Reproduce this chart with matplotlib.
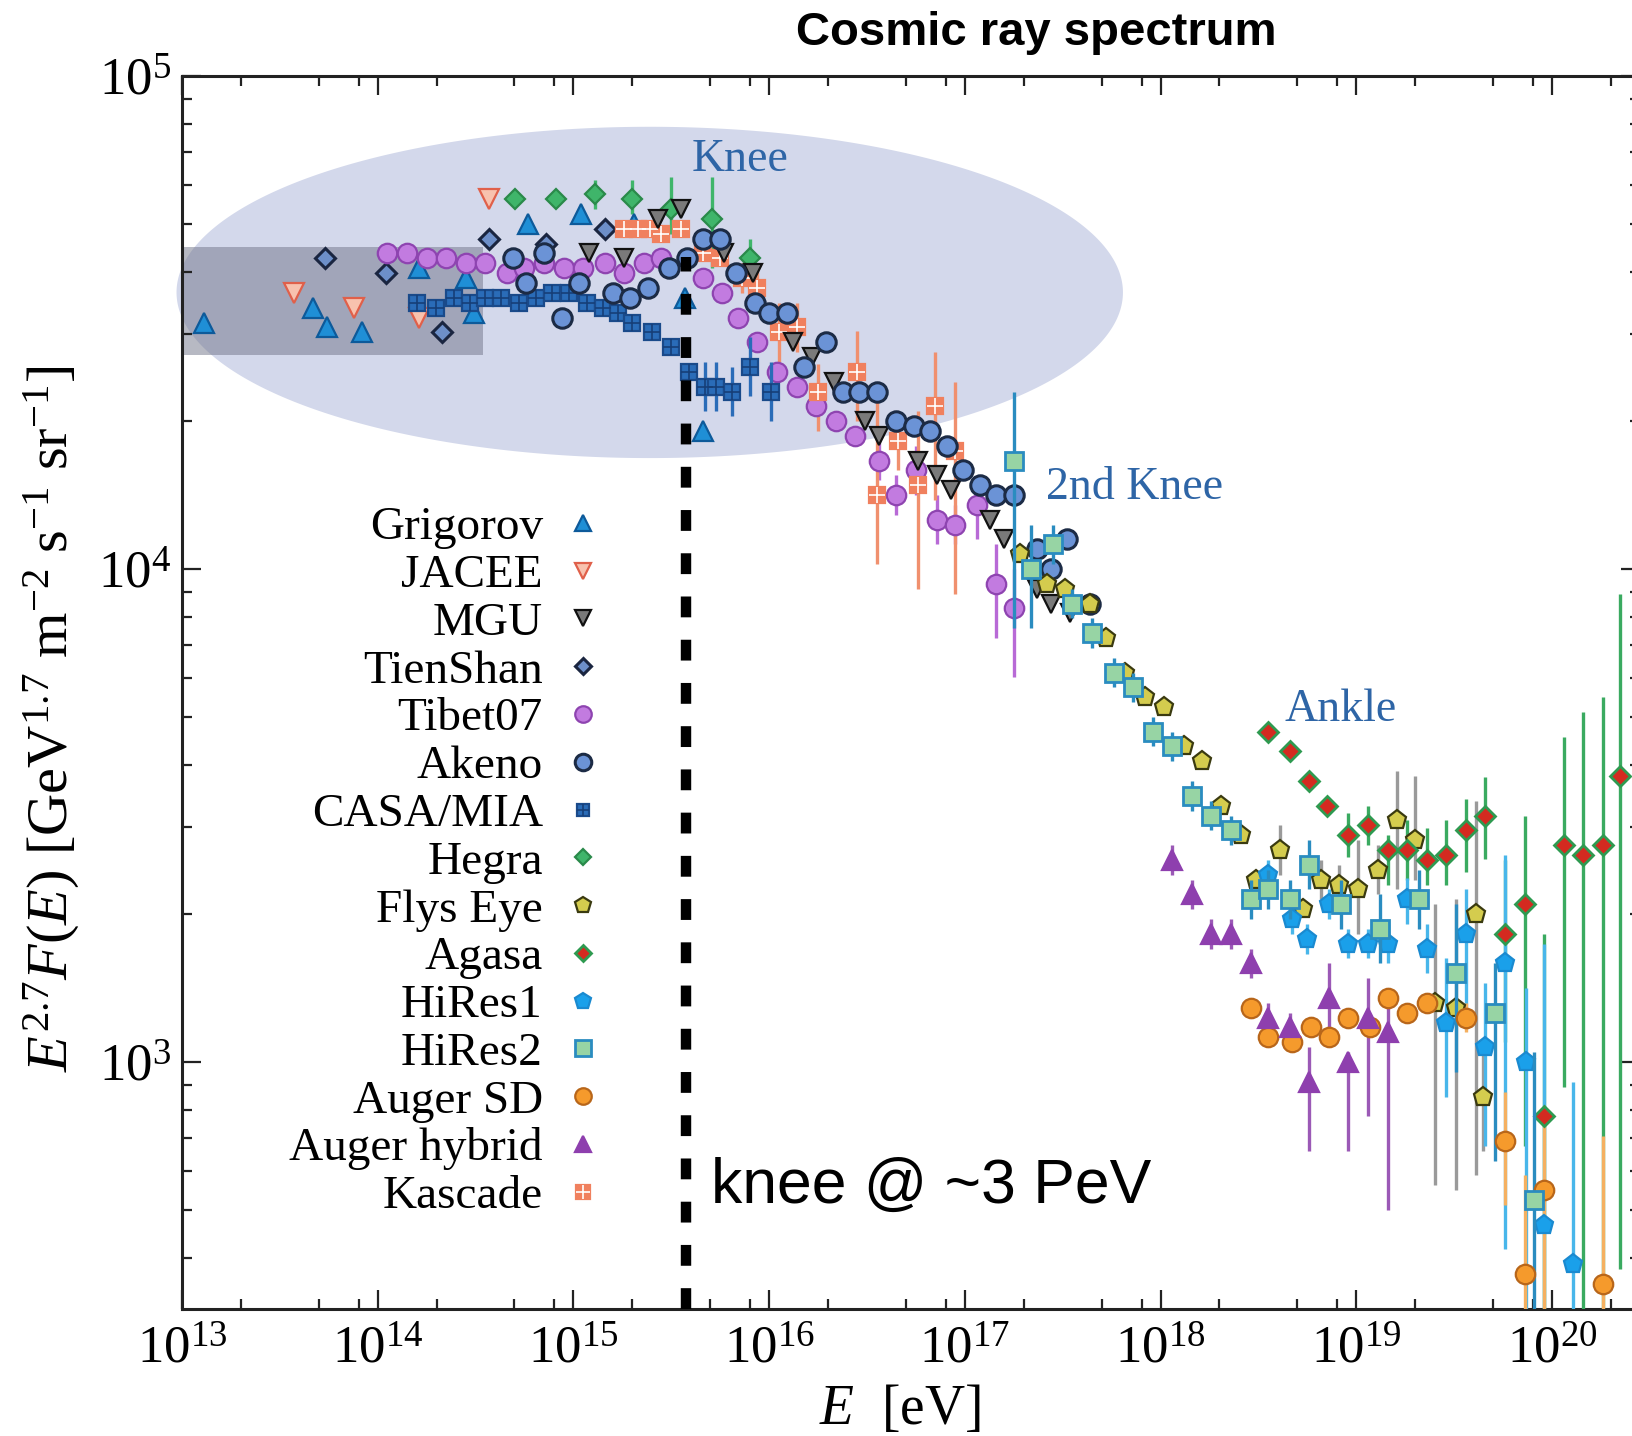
import numpy as np
import matplotlib
matplotlib.use("Agg")
import matplotlib.pyplot as plt
from matplotlib.ticker import LogLocator, NullFormatter

# ---- data: log10(E/eV) and log10(E^2.7 F(E)) ----
grig_le = [13.11, 13.67, 13.74, 13.92, 14.21, 14.45, 14.49, 14.77, 15.04, 15.31, 15.57, 15.66]
grig_lf = [4.50, 4.53, 4.49, 4.48, 4.61, 4.59, 4.52, 4.70, 4.72, 4.70, 4.55, 4.28]

jacee_le = [13.57, 13.88, 14.21, 14.57]
jacee_lf = [4.56, 4.53, 4.51, 4.75]

mgu_le = [15.08, 15.26, 15.43, 15.55, 15.77, 15.92, 16.12, 16.22, 16.33, 16.49, 16.56, 16.76,
          16.86, 16.93, 17.13, 17.20, 17.37, 17.44, 17.54]
mgu_lf = [4.64, 4.63, 4.71, 4.73, 4.64, 4.60, 4.46, 4.43, 4.38, 4.30, 4.27, 4.22,
          4.19, 4.16, 4.10, 4.06, 3.96, 3.93, 3.91]

tien_le = [13.73, 14.04, 14.33, 14.57, 14.86, 15.16]
tien_lf = [4.63, 4.60, 4.48, 4.67, 4.66, 4.69]

tibet_le = [14.05, 14.15, 14.25, 14.35, 14.45, 14.55, 14.66, 14.75, 14.85, 14.95, 15.05, 15.16,
            15.26, 15.36, 15.45, 15.66, 15.76, 15.84, 15.94, 16.04, 16.14, 16.24, 16.34, 16.44,
            16.56, 16.65, 16.75, 16.86, 16.95, 17.06, 17.16, 17.25]
tibet_lf = [4.64, 4.64, 4.63, 4.63, 4.62, 4.62, 4.60, 4.61, 4.62, 4.61, 4.61, 4.62,
            4.60, 4.62, 4.63, 4.59, 4.56, 4.51, 4.46, 4.40, 4.37, 4.33, 4.30, 4.27,
            4.22, 4.15, 4.20, 4.10, 4.09, 4.13, 3.97, 3.92]
tibet_hi = [0] * 24 + [0.04, 0.04, 0.05, 0.05, 0.04, 0.03, 0.08, 0.08]
tibet_lo = [0] * 24 + [0.04, 0.04, 0.05, 0.05, 0.04, 0.07, 0.11, 0.14]

akeno_le = [14.69, 14.76, 14.85, 14.94, 15.03, 15.20, 15.29, 15.38, 15.49, 15.58, 15.66, 15.75,
            15.83, 15.93, 16.00, 16.09, 16.18, 16.29, 16.38, 16.46, 16.55, 16.65, 16.74, 16.82,
            16.91, 16.99, 17.08, 17.16, 17.25, 17.37, 17.44, 17.52, 17.64]
akeno_lf = [4.63, 4.58, 4.64, 4.51, 4.58, 4.56, 4.55, 4.57, 4.61, 4.63, 4.67, 4.67,
            4.60, 4.54, 4.52, 4.52, 4.41, 4.46, 4.36, 4.36, 4.36, 4.30, 4.29, 4.28,
            4.25, 4.20, 4.17, 4.15, 4.15, 4.04, 4.00, 4.06, 3.93]

casa_le = [14.20, 14.30, 14.39, 14.47, 14.55, 14.63, 14.72, 14.81, 14.89, 14.98, 15.07, 15.15,
           15.23, 15.30, 15.40, 15.50, 15.59, 15.67, 15.73, 15.81, 15.90, 16.01]
casa_lf = [4.54, 4.53, 4.55, 4.54, 4.55, 4.55, 4.54, 4.55, 4.56, 4.56, 4.54, 4.53,
           4.52, 4.50, 4.48, 4.45, 4.40, 4.37, 4.37, 4.36, 4.41, 4.36]
casa_err = [0] * 17 + [0.05, 0.05, 0.05, 0.06, 0.06]

hegra_le = [14.70, 14.91, 15.11, 15.30, 15.50, 15.71, 15.90]
hegra_lf = [4.75, 4.75, 4.76, 4.75, 4.73, 4.71, 4.63]
hegra_hi = [0, 0, 0.03, 0.04, 0.065, 0.085, 0.04]
hegra_lo = [0, 0, 0.03, 0.03, 0.05, 0.10, 0.04]

flys_le = [17.28, 17.42, 17.51, 17.64, 17.72, 17.82, 17.92, 18.02, 18.12, 18.21, 18.31, 18.41,
           18.49, 18.61, 18.73, 18.82, 18.91, 19.01, 19.11, 19.21, 19.30, 19.40, 19.51, 19.61, 19.65]
flys_lf = [4.03, 3.97, 3.96, 3.93, 3.86, 3.79, 3.74, 3.72, 3.64, 3.61, 3.52, 3.46,
           3.37, 3.43, 3.31, 3.37, 3.36, 3.35, 3.39, 3.49, 3.45, 3.12, 3.11, 3.30, 2.93]
flys_hi = [0] * 13 + [0.05, 0, 0.04, 0.04, 0.10, 0.05, 0.10, 0.13, 0.20, 0.22, 0.23, 0.10]
flys_lo = [0] * 13 + [0.05, 0, 0.04, 0.04, 0.09, 0.05, 0.14, 0.08, 0.37, 0.37, 0.53, 0.11]

agasa_le = [18.55, 18.66, 18.76, 18.85, 18.96, 19.06, 19.16, 19.26, 19.36, 19.46, 19.56, 19.66,
            19.76, 19.86, 19.96, 20.06, 20.16, 20.26, 20.35]
agasa_lf = [3.67, 3.63, 3.57, 3.52, 3.46, 3.48, 3.43, 3.43, 3.41, 3.42, 3.47, 3.50,
            3.26, 3.32, 2.89, 3.44, 3.42, 3.44, 3.58]
agasa_hi = [0, 0, 0, 0, 0.045, 0.04, 0.03, 0.06, 0.065, 0.07, 0.064, 0.078,
            0.15, 0.18, 0.37, 0.22, 0.29, 0.30, 0.37]
agasa_lo = [0, 0, 0, 0, 0.045, 0.04, 0.07, 0.06, 0.05, 0.06, 0.085, 0.088,
            0.22, 0.49, 0.60, 0.49, 1.0, 1.0, 1.0]

hires1_le = [18.55, 18.67, 18.75, 18.86, 18.96, 19.06, 19.16, 19.26, 19.36, 19.46, 19.56, 19.66,
             19.76, 19.87, 19.96, 20.11]
hires1_lf = [3.38, 3.29, 3.25, 3.32, 3.24, 3.24, 3.24, 3.33, 3.23, 3.08, 3.26, 3.03,
             3.20, 3.00, 2.67, 2.59]
hires1_hi = [0.03, 0.03, 0.03, 0.03, 0.03, 0.03, 0.04, 0.044, 0.05, 0.13, 0.09, 0.13,
             0.22, 0.15, 0.57, 0.37]
hires1_lo = [0.03, 0.03, 0.03, 0.03, 0.03, 0.03, 0.04, 0.051, 0.05, 0.15, 0.17, 0.20,
             0.58, 0.60, 0.30, 0.20]

hires2_le = [17.25, 17.34, 17.45, 17.55, 17.65, 17.76, 17.86, 17.96, 18.06, 18.16, 18.26, 18.36,
             18.46, 18.55, 18.66, 18.76, 18.92, 19.12, 19.32, 19.51, 19.71, 19.91]
hires2_lf = [4.22, 4.00, 4.05, 3.93, 3.87, 3.79, 3.76, 3.67, 3.64, 3.54, 3.50, 3.47,
             3.33, 3.35, 3.33, 3.40, 3.32, 3.27, 3.33, 3.18, 3.10, 2.72]
hires2_hi = [0.14, 0.09, 0.04, 0.03, 0.03, 0.03, 0.03, 0.03, 0.03, 0.03, 0.03, 0.03,
             0.04, 0.04, 0.04, 0.05, 0.05, 0.07, 0.06, 0.14, 0.10, 0.30]
hires2_lo = [0.34, 0.12, 0.04, 0.03, 0.03, 0.03, 0.03, 0.03, 0.03, 0.03, 0.03, 0.03,
             0.04, 0.04, 0.04, 0.05, 0.05, 0.07, 0.06, 0.20, 0.30, 0.25]

augsd_le = [18.46, 18.55, 18.67, 18.77, 18.86, 18.96, 19.07, 19.16, 19.26, 19.36, 19.56, 19.76,
            19.86, 19.96, 20.26]
augsd_lf = [3.11, 3.05, 3.04, 3.07, 3.05, 3.09, 3.07, 3.13, 3.10, 3.12, 3.09, 2.84,
            2.57, 2.74, 2.55]
augsd_hi = [0.02, 0.02, 0.02, 0.02, 0.02, 0.02, 0.02, 0.02, 0.02, 0.02, 0.03, 0.10, 0.20, 0.15, 0.30]
augsd_lo = [0.02, 0.02, 0.02, 0.02, 0.02, 0.02, 0.02, 0.02, 0.02, 0.02, 0.03, 0.13, 0.10, 0.30, 0.10]

aughy_le = [18.06, 18.16, 18.26, 18.36, 18.46, 18.55, 18.66, 18.76, 18.86, 18.96, 19.06, 19.16]
aughy_lf = [3.41, 3.34, 3.26, 3.26, 3.20, 3.09, 3.07, 2.96, 3.13, 3.00, 3.09, 3.06]
aughy_hi = [0.03, 0.03, 0.03, 0.03, 0.03, 0.03, 0.03, 0.07, 0.07, 0.02, 0.08, 0.05]
aughy_lo = [0.03, 0.03, 0.03, 0.03, 0.03, 0.03, 0.03, 0.14, 0.08, 0.18, 0.20, 0.36]

kasc_le = [15.26, 15.33, 15.39, 15.45, 15.55, 15.66, 15.75, 15.86, 15.94, 16.05, 16.14, 16.25,
           16.45, 16.55, 16.66, 16.76, 16.85, 16.95]
kasc_lf = [4.69, 4.69, 4.69, 4.68, 4.69, 4.64, 4.63, 4.59, 4.57, 4.48, 4.49, 4.36,
           4.40, 4.15, 4.26, 4.17, 4.33, 4.24]
kasc_hi = [0, 0, 0, 0, 0, 0, 0, 0.03, 0.04, 0.06, 0.05, 0.055, 0.083, 0.23, 0.06, 0.15, 0.11, 0.14]
kasc_lo = [0, 0, 0, 0, 0, 0, 0, 0.03, 0.04, 0.06, 0.05, 0.08, 0.10, 0.14, 0.06, 0.21, 0.19, 0.29]

# highlighted regions / annotations (log10 units)
ell_cx, ell_cy, ell_ax, ell_ay = 15.39, 4.561, 2.418, 0.336
box_le = [13.0, 14.54]
box_lf = [4.434, 4.653]
knee_le = 15.575
knee_top_lf = 4.633

# ---- style ----
plt.rcParams.update({
    "font.family": "serif",
    "font.serif": ["Liberation Serif", "DejaVu Serif"],
    "mathtext.fontset": "custom",
    "mathtext.rm": "Liberation Serif",
    "mathtext.it": "Liberation Serif:italic",
    "mathtext.bf": "Liberation Serif:bold",
})

fig = plt.figure(figsize=(16.32, 14.36), dpi=100)
ax = fig.add_axes([182 / 1632, 127 / 1436, 1458 / 1632, 1233 / 1436])
ax.set_xscale("log")
ax.set_yscale("log")
ymin = 10 ** 2.499
ax.set_xlim(1e13, 10 ** 20.45)
ax.set_ylim(ymin, 1e5)

# shaded ellipse and gray box
t = np.linspace(0, 2 * np.pi, 400)
ax.fill(10 ** (ell_cx + ell_ax * np.cos(t)), 10 ** (ell_cy + ell_ay * np.sin(t)),
        color="#d3d8eb", lw=0, zorder=0.5, clip_on=False)
ax.fill_between([10 ** box_le[0], 10 ** box_le[1]], 10 ** box_lf[0], 10 ** box_lf[1],
                color="#707488", alpha=0.5, lw=0, zorder=0.6)


def series(le, lf, marker, ms, fc, ec, label, z, lo=None, hi=None, ecol=None, mew=1.6):
    x = 10 ** np.array(le)
    y = 10 ** np.array(lf)
    if lo is not None:
        lo = np.array(lo)
        hi = np.array(hi)
        yerr = [y - 10 ** (np.array(lf) - lo), 10 ** (np.array(lf) + hi) - y]
        ax.errorbar(x, y, yerr=yerr, fmt="none", ecolor=ecol, elinewidth=2.4,
                    capsize=0, zorder=z - 0.5)
    ln, = ax.plot(x, y, linestyle="none", marker=marker, ms=ms, mfc=fc, mec=ec,
                  mew=mew, zorder=z, label=label)
    return ln


h = []
h.append(series(grig_le, grig_lf, "^", 14, "#1f8fd6", "#0d5a9a", "Grigorov", 3))
h.append(series(jacee_le, jacee_lf, "v", 14, "#f8c2ae", "#e0604a", "JACEE", 3))
h.append(series(mgu_le, mgu_lf, "v", 13, "#7a7a7a", "#111111", "MGU", 4))
h.append(series(tien_le, tien_lf, "D", 10, "#6d8fc9", "#1a2540", "TienShan", 3, mew=2.2))
h.append(series(tibet_le, tibet_lf, "o", 14, "#c27be0", "#8e44b0", "Tibet07", 3,
                tibet_lo, tibet_hi, "#b86ad6"))
k_sq = series(kasc_le, kasc_lf, "s", 12, "#f0805e", "#f0805e", "Kascade", 3.2,
              kasc_lo, kasc_hi, "#f0906e")
k_pl, = ax.plot(10 ** np.array(kasc_le), 10 ** np.array(kasc_lf), linestyle="none",
                marker="+", ms=12, mec="white", mew=1.2, zorder=3.21)
h.append(series(akeno_le, akeno_lf, "o", 14, "#6b93d6", "#1c2b45", "Akeno", 4, mew=2.2))
c_sq = series(casa_le, casa_lf, "s", 11, "#2a6cb8", "#1a4a8a", "CASA/MIA", 3.5,
              casa_err, casa_err, "#2a6cb8")
c_pl, = ax.plot(10 ** np.array(casa_le), 10 ** np.array(casa_lf), linestyle="none",
                marker="+", ms=11, mec="#163f78", mew=1.2, zorder=3.51)
h.append((c_sq, c_pl))
h.append(series(hegra_le, hegra_lf, "D", 10, "#3fb56a", "#2a8a4a", "Hegra", 3,
                hegra_lo, hegra_hi, "#3fb56a"))
h.append(series(flys_le, flys_lf, "p", 14, "#d4cc4e", "#3a3a10", "Flys Eye", 4,
                flys_lo, flys_hi, "#9a9a9a"))
h.append(series(agasa_le, agasa_lf, "D", 10, "#d42a20", "#2e9a50", "Agasa", 4,
                agasa_lo, agasa_hi, "#3aaa60", mew=2.0))
h.append(series(hires1_le, hires1_lf, "p", 14, "#1aa0ea", "#1a8ad0", "HiRes1", 4,
                hires1_lo, hires1_hi, "#48b6ea"))
h.append(series(hires2_le, hires2_lf, "s", 13, "#97d4a4", "#2a8cc0", "HiRes2", 4.5,
                hires2_lo, hires2_hi, "#2a8cc0", mew=2.0))
h.append(series(augsd_le, augsd_lf, "o", 14, "#f59a2c", "#b8661a", "Auger SD", 4,
                augsd_lo, augsd_hi, "#f5b060"))
h.append(series(aughy_le, aughy_lf, "^", 14, "#8e3fae", "#8e3fae", "Auger hybrid", 4,
                aughy_lo, aughy_hi, "#9b59b6"))
h.append((k_sq, k_pl))
labels = ["Grigorov", "JACEE", "MGU", "TienShan", "Tibet07", "Akeno", "CASA/MIA", "Hegra",
          "Flys Eye", "Agasa", "HiRes1", "HiRes2", "Auger SD", "Auger hybrid", "Kascade"]

leg = ax.legend(h, labels, loc="upper right", bbox_to_anchor=(0.2912, 0.651),
                bbox_transform=ax.transAxes, markerfirst=False, frameon=False,
                fontsize=34, handlelength=1.0, handletextpad=0.35, labelspacing=0.10,
                borderpad=0, borderaxespad=0, markerscale=0.85)
leg.set_zorder(7)

# knee marker line
ax.plot([10 ** knee_le, 10 ** knee_le], [ymin, 10 ** knee_top_lf], color="black", lw=7.5,
        linestyle=(0, (2.0, 2.15)), zorder=6, clip_on=False)
ax.text(10 ** 15.703, 10 ** 2.748, "knee @ ~3 PeV", family="Liberation Sans", fontsize=45,
        ha="left", va="center", zorder=7)

# feature labels
lab_col = "#2e65a6"
ax.text(10 ** 15.606, 10 ** 4.830, "Knee", color=lab_col, fontsize=33, ha="left", va="center")
ax.text(10 ** 17.415, 10 ** 4.164, "2nd Knee", color=lab_col, fontsize=33, ha="left", va="center")
ax.text(10 ** 18.636, 10 ** 3.714, "Ankle", color=lab_col, fontsize=33, ha="left", va="center")

# axes / ticks (only decades inside the view)
ax.set_xticks(10.0 ** np.arange(13, 21))
ax.set_yticks(10.0 ** np.arange(3, 6))
ax.xaxis.set_minor_locator(LogLocator(base=10, subs=(2, 5, 8), numticks=40))
ax.xaxis.set_minor_formatter(NullFormatter())
ax.yaxis.set_minor_locator(LogLocator(base=10, subs=np.arange(2, 10), numticks=40))
ax.yaxis.set_minor_formatter(NullFormatter())
ax.tick_params(which="both", direction="in", top=True, right=True, width=1.6, color="#222222")
ax.tick_params(which="major", length=14, labelsize=38)
ax.tick_params(which="minor", length=7)
ax.tick_params(axis="x", pad=12)
ax.tick_params(axis="y", pad=8)
for s in ax.spines.values():
    s.set_linewidth(2.2)
    s.set_color("#222222")

ax.set_xlabel(r"$E$  [eV]", fontsize=40)
ax.xaxis.set_label_coords(0.4925, -0.082)
ax.xaxis.label.set_va("center")
ax.set_ylabel(r"$E^{2.7}F(E)$ [GeV$^{1.7}$ m$^{-2}$ s$^{-1}$ sr$^{-1}$]", fontsize=42)
ax.yaxis.set_label_coords(-0.0892, 0.479)
ax.yaxis.label.set_va("center")

fig.text(1036 / 1632, 1 - 33 / 1436, "Cosmic ray spectrum", family="Liberation Sans",
         weight="bold", fontsize=34, ha="center", va="center")

fig.savefig("out.png", dpi=100)
